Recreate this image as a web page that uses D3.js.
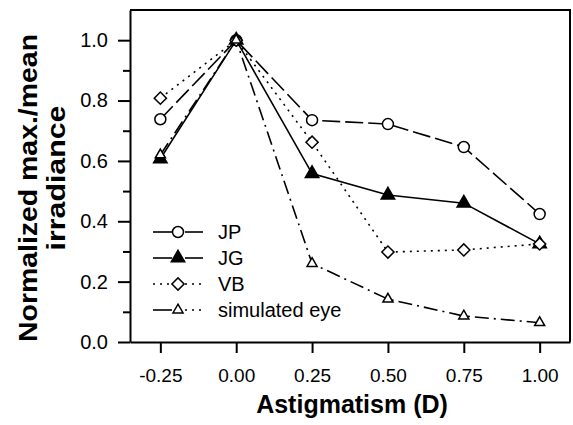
<!DOCTYPE html>
<html>
<head>
<meta charset="utf-8">
<script src="https://cdn.jsdelivr.net/npm/d3@7"></script>
<style>
  body { margin: 0; background: #fff; }
  svg { display: block; font-family: "Liberation Sans", Arial, sans-serif; }
  .axis path, .axis line { stroke: #000; stroke-width: 2; }
  .axis text { font-size: 19px; fill: #000; }
  .yaxis text { font-size: 20px; }
</style>
</head>
<body>
<svg id="chart" width="573" height="425"></svg>
<script>
// data
var astigmatism = [-0.25, 0, 0.25, 0.5, 0.75, 1.0];
var jp  = [0.738, 1.0, 0.735, 0.722, 0.646, 0.424];
var jg  = [0.607, 1.0, 0.558, 0.487, 0.46, 0.325];
var vb  = [0.808, 1.0, 0.662, 0.298, 0.305, 0.325];
var sim = [0.62, 1.0, 0.26, 0.142, 0.086, 0.064];

var seriesNames = ["JP", "JG", "VB", "simulated eye"];
var xTicks = [-0.25, 0, 0.25, 0.5, 0.75, 1.0];
var yTicks = [0, 0.2, 0.4, 0.6, 0.8, 1.0];
var yMinor = [0.1, 0.3, 0.5, 0.7, 0.9];

var plotLeft = 130, plotRight = 570, plotTop = 10, plotBottom = 342;

var svg = d3.select("#chart");

var x = d3.scaleLinear().domain([-0.35, 1.1]).range([plotLeft, plotRight]);
var y = d3.scaleLinear().domain([0, 1.1]).range([plotBottom, plotTop]);

// frame (top + right)
svg.append("path")
    .attr("d", "M" + plotLeft + "," + plotTop + "H" + plotRight + "V" + plotBottom)
    .attr("fill", "none")
    .attr("stroke", "#000")
    .attr("stroke-width", 2);

// minor y ticks
svg.append("g")
    .attr("class", "axis")
    .attr("transform", "translate(" + plotLeft + ",0)")
    .call(d3.axisLeft(y).tickValues(yMinor).tickSize(7).tickFormat(""))
    .select(".domain").remove();

// y axis
svg.append("g")
    .attr("class", "axis yaxis")
    .attr("transform", "translate(" + plotLeft + ",0)")
    .call(d3.axisLeft(y).tickValues(yTicks).tickSize(12).tickSizeOuter(0).tickPadding(10)
        .tickFormat(function (d) { return d.toFixed(1); }));

// x axis
svg.append("g")
    .attr("class", "axis")
    .attr("transform", "translate(0," + plotBottom + ")")
    .call(d3.axisBottom(x).tickValues(xTicks).tickSize(11).tickSizeOuter(0).tickPadding(16)
        .tickFormat(function (d) { return d.toFixed(2); }));

// axis titles
svg.append("text")
    .attr("x", 352)
    .attr("y", 413)
    .attr("text-anchor", "middle")
    .style("font-size", "25px")
    .style("font-weight", "bold")
    .text("Astigmatism (D)");

svg.append("text")
    .attr("transform", "translate(37,188) rotate(-90)")
    .attr("text-anchor", "middle")
    .attr("textLength", 308)
    .attr("lengthAdjust", "spacingAndGlyphs")
    .style("font-size", "25px")
    .style("font-weight", "bold")
    .text("Normalized  max./mean");

svg.append("text")
    .attr("transform", "translate(65,178) rotate(-90)")
    .attr("text-anchor", "middle")
    .attr("textLength", 145)
    .attr("lengthAdjust", "spacingAndGlyphs")
    .style("font-size", "25px")
    .style("font-weight", "bold")
    .text("irradiance");

// series
var series = [
    { name: seriesNames[0], values: jp,  dash: "18,5",     marker: "circle",   fill: "#fff" },
    { name: seriesNames[1], values: jg,  dash: null,       marker: "triangle", fill: "#000" },
    { name: seriesNames[2], values: vb,  dash: "2,5",      marker: "diamond",  fill: "#fff" },
    { name: seriesNames[3], values: sim, dash: "14,5,2,5", marker: "triangle", fill: "#fff" }
];

var symbolType = { circle: d3.symbolCircle, triangle: d3.symbolTriangle, diamond: d3.symbolSquare };
var symbolSize = [95, 78, 74, 44];
var symbolRotate = { circle: 0, triangle: 0, diamond: 45 };

var line = d3.line()
    .x(function (d, i) { return x(astigmatism[i]); })
    .y(function (d) { return y(d); });

series.forEach(function (s) {
    svg.append("path")
        .datum(s.values)
        .attr("d", line)
        .attr("fill", "none")
        .attr("stroke", "#000")
        .attr("stroke-width", 1.6)
        .attr("stroke-dasharray", s.dash);
});

series.forEach(function (s, k) {
    var sym = d3.symbol().type(symbolType[s.marker]).size(symbolSize[k]);
    svg.selectAll(".m" + k)
        .data(s.values)
        .enter()
        .append("path")
        .attr("class", "m" + k)
        .attr("transform", function (d, i) {
            return "translate(" + x(astigmatism[i]) + "," + y(d) + ") rotate(" + symbolRotate[s.marker] + ")";
        })
        .attr("d", sym)
        .attr("fill", s.fill)
        .attr("stroke", "#000")
        .attr("stroke-width", 1.5);
});

// legend
var legendDash = [
    [null, null],
    [null, null],
    ["2,5", "2,5"],
    [null, "2,5"]
];
var legend = svg.append("g");
series.forEach(function (s, k) {
    var ly = 232 + k * 26;
    legend.append("line")
        .attr("x1", 153).attr("x2", 172).attr("y1", ly).attr("y2", ly)
        .attr("stroke", "#000").attr("stroke-width", 1.6)
        .attr("stroke-dasharray", legendDash[k][0]);
    legend.append("line")
        .attr("x1", 185).attr("x2", 203).attr("y1", ly).attr("y2", ly)
        .attr("stroke", "#000").attr("stroke-width", 1.6)
        .attr("stroke-dasharray", legendDash[k][1]);
    legend.append("path")
        .attr("transform", "translate(178," + ly + ") rotate(" + symbolRotate[s.marker] + ")")
        .attr("d", d3.symbol().type(symbolType[s.marker]).size(symbolSize[k]))
        .attr("fill", s.fill)
        .attr("stroke", "#000")
        .attr("stroke-width", 1.5);
    legend.append("text")
        .attr("x", 218)
        .attr("y", ly + 7)
        .style("font-size", "20px")
        .text(s.name);
});
</script>
</body>
</html>
